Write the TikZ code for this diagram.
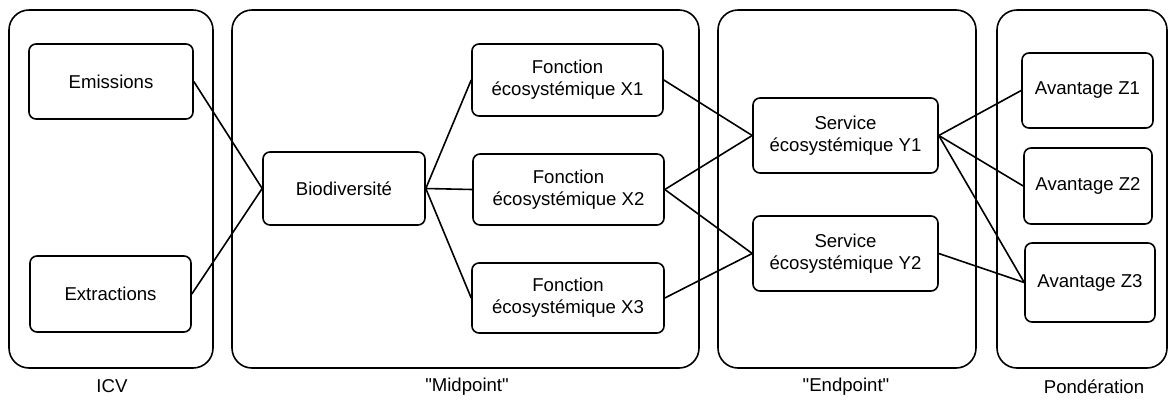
\documentclass[tikz,border=0pt]{standalone}
\usepackage{fontspec}
\setmainfont{Liberation Sans}[Ligatures=TeXOff]
\begin{document}
\begin{tikzpicture}[x=1pt,y=-1pt,
  group/.style={draw,line width=1.6pt,rounded corners=20pt,inner sep=0pt},
  box/.style={draw,line width=1.6pt,rounded corners=7pt,inner sep=0pt,align=center,
    font=\fontsize{18.6}{22}\selectfont},
  lbl/.style={font=\fontsize{18.6}{22}\selectfont,inner sep=0pt},
  link/.style={line width=1.6pt}]
\useasboundingbox (0,0) rectangle (1169,400);
% containers
\node[group,minimum width=204pt,minimum height=358pt] (icv) at (111,189) {};
\node[group,minimum width=467pt,minimum height=358pt] (mid) at (465.5,189) {};
\node[group,minimum width=258pt,minimum height=358pt] (endp) at (847,189) {};
\node[group,minimum width=170pt,minimum height=358pt] (pond) at (1082,189) {};
% labels
\node[lbl] (licv) at (112,386) {ICV};
\node[lbl] (lmid) at (467,387) {"Midpoint"};
\node[lbl] (lend) at (846,387) {"Endpoint"};
\node[lbl] (lpond) at (1094,387) {Pondération};
% boxes
\node[box,minimum width=164pt,minimum height=75pt] (em) at (111,81.5) {Emissions};
\node[box,minimum width=161pt,minimum height=76pt] (ex) at (110.5,294) {Extractions};
\node[box,minimum width=162pt,minimum height=73pt] (bio) at (344,188.5) {Biodiversité};
\node[box,minimum width=191pt,minimum height=72pt] (x1) at (567.5,80) {Fonction\\écosystémique X1};
\node[box,minimum width=191pt,minimum height=71pt] (x2) at (568.5,189.5) {Fonction\\écosystémique X2};
\node[box,minimum width=192pt,minimum height=70pt] (x3) at (568,298) {Fonction\\écosystémique X3};
\node[box,minimum width=185pt,minimum height=75pt] (y1) at (845.5,135.5) {Service\\écosystémique Y1};
\node[box,minimum width=185pt,minimum height=75pt] (y2) at (845.5,253.5) {Service\\écosystémique Y2};
\node[box,minimum width=131pt,minimum height=75pt] (z1) at (1087.5,90.5) {Avantage Z1};
\node[box,minimum width=128pt,minimum height=76pt] (z2) at (1088,186) {Avantage Z2};
\node[box,minimum width=130pt,minimum height=79pt] (z3) at (1090,282.5) {Avantage Z3};
% links
\draw[link] (em.east) -- (bio.west);
\draw[link] (ex.east) -- (bio.west);
\draw[link] (bio.east) -- (x1.west);
\draw[link] (bio.east) -- (x2.west);
\draw[link] (bio.east) -- (x3.west);
\draw[link] (x1.east) -- (y1.west);
\draw[link] (x2.east) -- (y1.west);
\draw[link] (x2.east) -- (y2.west);
\draw[link] (x3.east) -- (y2.west);
\draw[link] (y1.east) -- (z1.west);
\draw[link] (y1.east) -- (z2.west);
\draw[link] (y1.east) -- (z3.west);
\draw[link] (y2.east) -- (z3.west);
\end{tikzpicture}
\end{document}
